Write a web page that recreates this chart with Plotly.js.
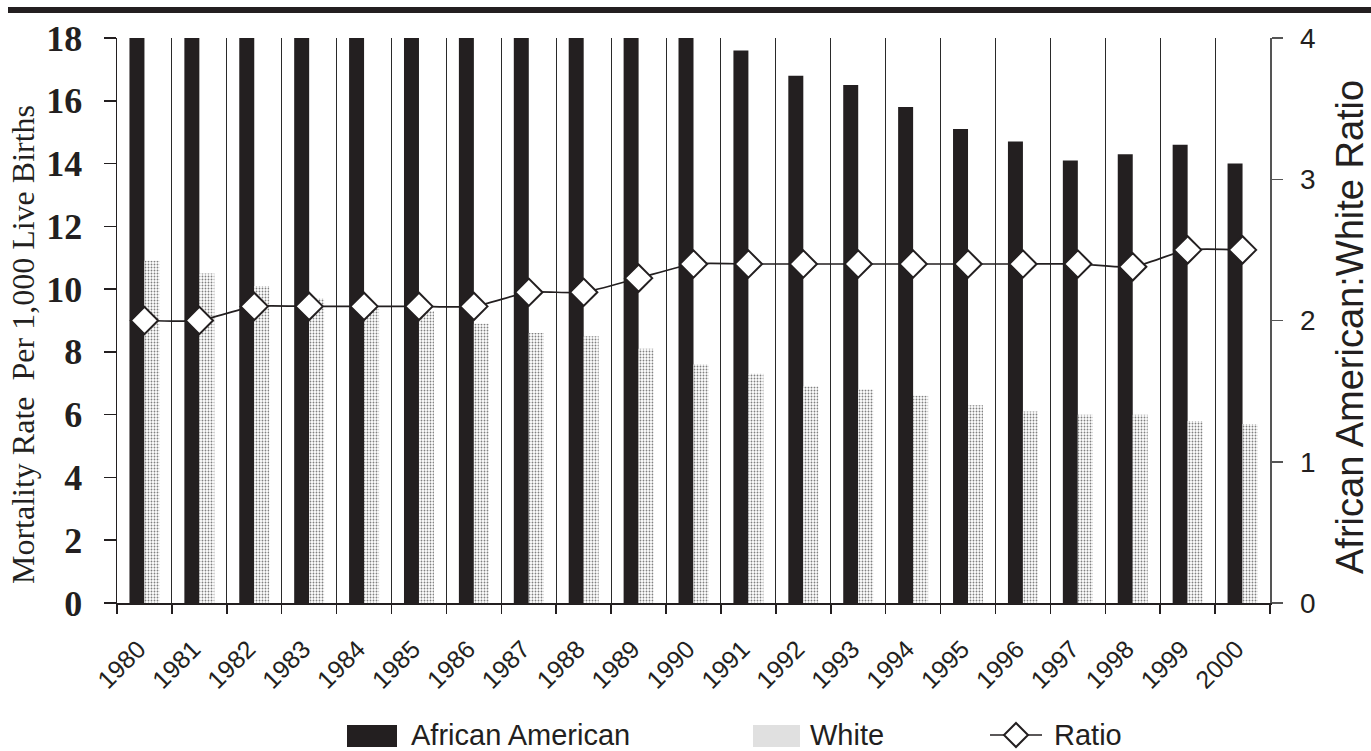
<!DOCTYPE html>
<html>
<head>
<meta charset="utf-8">
<script src="https://cdn.plot.ly/plotly-3.0.1.min.js"></script>
<style>
  html, body { margin: 0; padding: 0; background: #ffffff; }
  #chart { width: 1371px; height: 751px; }
</style>
</head>
<body>
<div id="chart"></div>
<script>
// ---- data ----
const years = ['1980','1981','1982','1983','1984','1985','1986','1987','1988','1989','1990',
               '1991','1992','1993','1994','1995','1996','1997','1998','1999','2000'];
const africanAmerican = [22.2, 20.8, 20.5, 20.0, 19.2, 19.0, 18.9, 18.8, 18.5, 18.6, 18.0,
                         17.6, 16.8, 16.5, 15.8, 15.1, 14.7, 14.1, 14.3, 14.6, 14.0];
const white = [10.9, 10.5, 10.1, 9.7, 9.4, 9.3, 8.9, 8.6, 8.5, 8.1, 7.6,
               7.3, 6.9, 6.8, 6.6, 6.3, 6.1, 6.0, 6.0, 5.8, 5.7];
const ratio = [2.0, 2.0, 2.1, 2.1, 2.1, 2.1, 2.1, 2.2, 2.2, 2.3, 2.4,
               2.4, 2.4, 2.4, 2.4, 2.4, 2.4, 2.4, 2.38, 2.5, 2.5];
const leftTicks = [0, 2, 4, 6, 8, 10, 12, 14, 16, 18];
const rightTicks = [0, 1, 2, 3, 4];
const seriesNames = ['African American', 'White', 'Ratio'];
const leftTitle = 'Mortality Rate  Per 1,000 Live Births';
const rightTitle = 'African American:White Ratio';

// ---- layout geometry (pixels) ----
const W = 1371, H = 751;
const M = { l: 117, r: 101, t: 38, b: 148 };
const PW = W - M.l - M.r, PH = H - M.t - M.b;
const px = x => (x - M.l) / PW;
const py = y => (H - M.b - y) / PH;

const sans = '"Liberation Sans", Arial, sans-serif';
const serif = '"Liberation Serif", "Times New Roman", serif';
const black = '#231f20';

const traces = [
  {
    type: 'bar', name: seriesNames[0], x: years, y: africanAmerican,
    marker: { color: black, line: { width: 0 } },
    showlegend: false, hoverinfo: 'x+y'
  },
  {
    type: 'bar', name: seriesNames[1], x: years, y: white,
    marker: {
      color: '#ffffff', line: { width: 0 },
      pattern: { shape: '.', fgcolor: '#808080', bgcolor: '#ffffff', size: 3, solidity: 0.3 }
    },
    showlegend: false, hoverinfo: 'x+y'
  },
  {
    type: 'scatter', mode: 'lines+markers', name: seriesNames[2], x: years, y: ratio, yaxis: 'y2',
    line: { color: black, width: 1.7, shape: 'spline', smoothing: 0.6 },
    marker: { symbol: 'diamond', size: 21, color: '#ffffff', line: { color: black, width: 2 } },
    showlegend: false, cliponaxis: false
  }
];

// legend drawn with shapes + annotations
const legY = 735;
const shapes = [
  // thick rule at top
  { type: 'rect', xref: 'paper', yref: 'paper', x0: px(8), x1: px(1371), y0: py(13), y1: py(7),
    fillcolor: black, line: { width: 0 }, layer: 'above' },
  // African American swatch
  { type: 'rect', xref: 'paper', yref: 'paper', x0: px(347), x1: px(397), y0: py(747), y1: py(725),
    fillcolor: black, line: { width: 0 } },
  // White swatch
  { type: 'rect', xref: 'paper', yref: 'paper', x0: px(753), x1: px(800), y0: py(747), y1: py(725),
    fillcolor: '#e0e0e0', line: { width: 0 } },
  // Ratio line
  { type: 'line', xref: 'paper', yref: 'paper', x0: px(990), x1: px(1042), y0: py(legY), y1: py(legY),
    line: { color: black, width: 1.7 } },
  // Ratio diamond
  { type: 'path', xref: 'paper', yref: 'paper',
    path: 'M ' + px(1016) + ' ' + py(legY - 12) + ' L ' + px(1028) + ' ' + py(legY) +
          ' L ' + px(1016) + ' ' + py(legY + 12) + ' L ' + px(1004) + ' ' + py(legY) + ' Z',
    fillcolor: '#ffffff', line: { color: black, width: 2 } }
];

const annotations = [
  { text: seriesNames[0], xref: 'paper', yref: 'paper', x: px(409), y: py(legY), xanchor: 'left', yanchor: 'middle',
    showarrow: false, font: { family: sans, size: 29, color: black } },
  { text: seriesNames[1], xref: 'paper', yref: 'paper', x: px(808), y: py(legY), xanchor: 'left', yanchor: 'middle',
    showarrow: false, font: { family: sans, size: 29, color: black } },
  { text: seriesNames[2], xref: 'paper', yref: 'paper', x: px(1052), y: py(legY), xanchor: 'left', yanchor: 'middle',
    showarrow: false, font: { family: sans, size: 29, color: black } },
  { text: leftTitle, xref: 'paper', yref: 'paper', x: px(23), y: py(345), xanchor: 'center', yanchor: 'middle',
    textangle: -90, showarrow: false, font: { family: serif, size: 32, color: black } },
  { text: rightTitle, xref: 'paper', yref: 'paper', x: px(1350), y: py(327), xanchor: 'center', yanchor: 'middle',
    textangle: -90, showarrow: false, font: { family: sans, size: 38, color: black } }
];

const layout = {
  width: W, height: H,
  margin: M,
  paper_bgcolor: '#ffffff', plot_bgcolor: '#ffffff',
  barmode: 'group', bargap: 0.454, bargroupgap: 0,
  showlegend: false,
  xaxis: {
    type: 'category', tickson: 'boundaries', range: [-0.5, years.length - 0.5],
    showgrid: true, gridcolor: '#2a2a2a', gridwidth: 1,
    showline: true, linecolor: black, linewidth: 1.5,
    ticks: 'outside', ticklen: 9, tickcolor: black, tickwidth: 1.5,
    tickangle: -45, ticklabelshift: -6, ticklabelstandoff: 20,
    tickfont: { family: sans, size: 25, color: black }
  },
  yaxis: {
    range: [0, 18], tickvals: leftTicks, ticktext: leftTicks.map(String),
    showgrid: false, zeroline: false,
    showline: true, linecolor: black, linewidth: 1.5,
    ticks: 'outside', ticklen: 12, tickcolor: black, tickwidth: 1.5,
    ticklabelstandoff: 14,
    tickfont: { family: serif, size: 36, color: black, weight: 'bold' }
  },
  yaxis2: {
    overlaying: 'y', side: 'right', range: [0, 4], tickvals: rightTicks, ticktext: rightTicks.map(String),
    showgrid: false, zeroline: false,
    showline: true, linecolor: '#555555', linewidth: 1.5,
    ticks: 'outside', ticklen: 11, tickcolor: '#555555', tickwidth: 1.5,
    ticklabelstandoff: 12,
    tickfont: { family: sans, size: 28, color: black }
  },
  shapes: shapes,
  annotations: annotations
};

Plotly.newPlot('chart', traces, layout, { displayModeBar: false, staticPlot: true });
</script>
</body>
</html>
